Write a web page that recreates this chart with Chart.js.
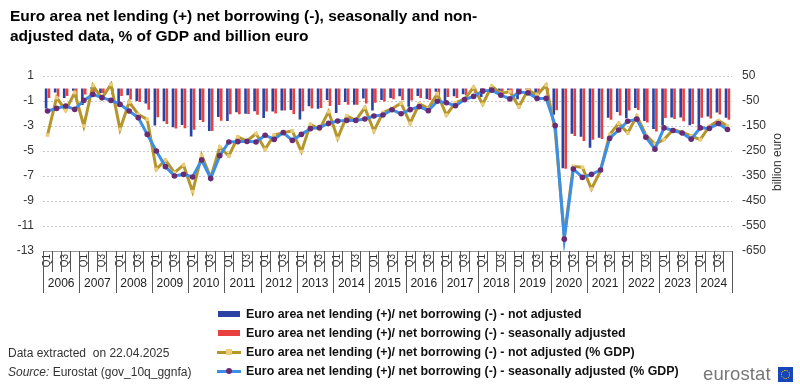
<!DOCTYPE html>
<html>
<head>
<meta charset="utf-8">
<script src="https://cdn.jsdelivr.net/npm/chart.js@4.4.1/dist/chart.umd.min.js"></script>
<style>
  html, body { margin: 0; padding: 0; background: #fff; }
  body { width: 800px; height: 388px; position: relative; overflow: hidden; font-family: "Liberation Sans", Arial, sans-serif; color: #000; }
  #wrap { position: absolute; left: 0; top: 0; width: 800px; height: 388px; }
  #title { position: absolute; left: 10px; top: 6px; font-size: 15.5px; font-weight: bold; line-height: 20px; color: #000; }
  #yRightTitle { position: absolute; left: 777px; top: 162px; transform: translate(-50%, -50%) rotate(-90deg); font-size: 12px; color: #333; white-space: nowrap; }
  #legend { position: absolute; left: 217px; top: 304px; font-size: 12.4px; font-weight: bold; color: #111; }
  .row { height: 19px; display: flex; align-items: center; white-space: nowrap; }
  .sym { width: 24px; height: 10px; position: relative; margin-right: 5px; }
  .bar { position: absolute; left: 1px; right: 1px; top: 2px; height: 6px; }
  .ln { position: absolute; left: 0; right: 0; top: 4px; height: 3px; }
  .mk { position: absolute; left: 9px; top: 2px; width: 6px; height: 6px; }
  #foot { position: absolute; left: 8px; top: 344px; font-size: 12px; color: #333; line-height: 19px; }
  #logo { position: absolute; left: 703px; top: 363px; font-size: 18.5px; color: #777; letter-spacing: 0.1px; }
  #flag { position: absolute; left: 778px; top: 367px; width: 15px; height: 15px; background: #1646b8; }
  #flag div { position: absolute; left: 3px; top: 3px; width: 7px; height: 7px; border: 1px dotted #ffd617; border-radius: 50%; }
</style>
</head>
<body>
<div id="wrap"><canvas id="chart" width="800" height="388"></canvas></div>
<div id="title">Euro area net lending (+) net borrowing (-), seasonally and non-<br>adjusted data, % of GDP and billion euro</div>
<div id="yRightTitle">billion euro</div>
<div id="legend"></div>
<div id="foot">Data extracted&nbsp; on 22.04.2025<br><i>Source:</i> Eurostat (gov_10q_ggnfa)</div>
<div id="logo">eurostat</div>
<div id="flag"><div></div></div>
<script>
const years = ['2006', '2007', '2008', '2009', '2010', '2011', '2012', '2013', '2014', '2015',
  '2016', '2017', '2018', '2019', '2020', '2021', '2022', '2023', '2024'];
const quarters = ['Q1', 'Q2', 'Q3', 'Q4'];
const quarterTicks = ['Q1', '', 'Q3', ''];

// billion euro, not adjusted
const notAdjustedBn = [
  -80, -16, -38, -9, -66, 4, -18, 6, -72, -27, -50, -60,
  -148, -131, -155, -146, -192, -126, -170, -114, -130, -95, -101, -91,
  -118, -92, -88, -86, -124, -71, -81, -46, -98, -54, -65, -40,
  -88, -46, -38, -31, -73, -30, -42, -13, -62, -31, -23, -1,
  -34, 5, -12, -7, -43, -4, -16, 8,
  -105, -319, -181, -193, -237, -197, -117, -94, -119, -78,
  -130, -162, -148, -116, -116, -147, -153, -112, -96, -117
];
// billion euro, seasonally adjusted
const seasAdjustedBn = [
  -38, -35, -30, -39, -24, -13, -19, -22, -30, -44, -54, -85,
  -115, -142, -160, -159, -165, -134, -170, -129, -103, -103, -102, -105,
  -92, -100, -88, -102, -91, -80, -78, -70, -66, -65, -65, -60,
  -57, -52, -43, -47, -48, -38, -46, -28, -34, -38, -26, -17,
  -8, -5, -16, -24, -9, -11, -24, -24,
  -87, -321, -190, -210, -205, -202, -125, -108, -88, -86,
  -136, -172, -118, -122, -131, -142, -117, -120, -104, -125
];
// % of GDP, not adjusted
const notAdjustedPct = [
  -3.72, -0.73, -1.75, -0.33, -3.0, 0.25, -0.79, 0.33, -3.27, -1.08, -2.07, -2.47,
  -6.47, -5.72, -6.73, -6.12, -8.25, -5.35, -7.13, -4.68, -5.4, -3.88, -4.2, -3.61,
  -4.87, -3.72, -3.53, -3.4, -5.05, -2.87, -3.27, -1.85, -3.99, -2.2, -2.55, -1.53,
  -3.4, -1.93, -1.62, -1.18, -2.78, -1.22, -1.59, -0.42, -2.12, -1.13, -0.85, 0.1,
  -1.25, 0.2, -0.4, -0.25, -1.46, -0.13, -0.52, 0.28,
  -3.4, -11.8, -6.23, -6.31, -8.04, -6.57, -3.69, -2.79, -3.55, -2.2,
  -3.72, -4.45, -4.09, -3.3, -3.5, -3.8, -4.09, -3.03, -2.57, -3.0
];
// % of GDP, seasonally adjusted
const seasAdjustedPct = [
  -1.8, -1.59, -1.4, -1.67, -0.95, -0.47, -0.73, -0.95, -1.27, -1.8, -2.33, -3.67,
  -5.0, -6.25, -7.0, -6.87, -7.08, -5.72, -7.19, -5.37, -4.28, -4.25, -4.23, -4.28,
  -3.74, -4.07, -3.53, -4.15, -3.67, -3.21, -3.13, -2.79, -2.6, -2.55, -2.55, -2.44,
  -2.2, -2.12, -1.7, -2.02, -1.69, -1.45, -1.77, -1.02, -1.14, -1.38, -0.89, -0.63,
  -0.21, -0.13, -0.53, -0.83, -0.28, -0.35, -0.79, -0.79,
  -2.97, -12.05, -6.44, -7.11, -6.87, -6.52, -3.99, -3.32, -2.62, -2.45,
  -3.9, -4.85, -3.15, -3.36, -3.56, -4.05, -3.15, -3.19, -2.8, -3.28
];

const labels = years.flatMap(y => quarters.map(q => y + ' ' + q));

const BLUE = '#2a42a3';
const RED = '#e8403f';
const GOLD = '#b5962b';
const GOLD_MK = '#ebcd7c';
const LBLUE = '#3b8fe6';
const PURPLE = '#6a2b73';

const series = [
  { label: 'Euro area net lending (+)/ net borrowing (-) - not adjusted', type: 'bar', data: notAdjustedBn, color: BLUE },
  { label: 'Euro area net lending (+)/ net borrowing (-) - seasonally adjusted', type: 'bar', data: seasAdjustedBn, color: RED },
  { label: 'Euro area net lending (+)/ net borrowing (-) - not adjusted (% GDP)', type: 'line', data: notAdjustedPct, color: GOLD, marker: GOLD_MK, style: 'rect' },
  { label: 'Euro area net lending (+)/ net borrowing (-) - seasonally adjusted (% GDP)', type: 'line', data: seasAdjustedPct, color: LBLUE, marker: PURPLE, style: 'circle' },
];

const datasets = series.map((s, i) => {
  if (s.type === 'bar') {
    return {
      type: 'bar', label: s.label, data: s.data, yAxisID: 'y1', xAxisID: 'x',
      backgroundColor: s.color, borderWidth: 0,
      categoryPercentage: 0.64, barPercentage: 0.9, order: 5 + i
    };
  }
  return {
    type: 'line', label: s.label, data: s.data, yAxisID: 'y', xAxisID: 'x',
    borderColor: s.color, borderWidth: 3, tension: 0,
    pointStyle: s.style, pointRadius: s.style === 'rect' ? 2.6 : 2.8,
    pointBackgroundColor: s.marker, pointBorderWidth: 0,
    order: 4 - i
  };
});

const tickFont = { family: '"Liberation Sans", Arial, sans-serif', size: 12 };
const Q_AXIS_H = 21;
const Y_AXIS_H = 21;

// separator lines of the two-level category axis
const axisBoxes = {
  id: 'axisBoxes',
  afterDraw(chart) {
    const { ctx, chartArea } = chart;
    const x = chart.scales.x;
    const n = labels.length;
    const step = (x.getPixelForValue(1) - x.getPixelForValue(0));
    ctx.save();
    ctx.strokeStyle = '#555';
    ctx.lineWidth = 1;
    ctx.beginPath();
    for (let i = 0; i <= n; i++) {
      const px = Math.round(x.getPixelForValue(i) - step / 2) + 0.5;
      const bottom = i % 4 === 0 ? chartArea.bottom + Q_AXIS_H + Y_AXIS_H : chartArea.bottom + Q_AXIS_H;
      ctx.moveTo(px, chartArea.bottom);
      ctx.lineTo(px, bottom);
    }
    ctx.stroke();
    ctx.restore();
  }
};

new Chart(document.getElementById('chart'), {
  data: { labels, datasets },
  options: {
    responsive: false,
    animation: false,
    events: [],
    layout: { padding: { left: 10, right: 33, top: 76, bottom: 95 } },
    plugins: { legend: { display: false }, tooltip: { enabled: false }, title: { display: false } },
    scales: {
      x: {
        type: 'category', axis: 'x', position: 'bottom', offset: true,
        grid: { offset: true, drawOnChartArea: false, drawTicks: false },
        border: { display: true, color: '#999' },
        ticks: {
          autoSkip: false, minRotation: 90, maxRotation: 90, padding: 3,
          color: '#333', font: { family: tickFont.family, size: 10 },
          callback: (v, i) => quarterTicks[i % 4]
        },
        afterFit: s => { s.height = Q_AXIS_H; }
      },
      year: {
        type: 'category', axis: 'x', position: 'bottom', offset: true, labels: years,
        grid: { offset: true, drawOnChartArea: false, drawTicks: false },
        border: { display: false },
        ticks: { autoSkip: false, maxRotation: 0, padding: 4, color: '#222', font: tickFont },
        afterFit: s => { s.height = Y_AXIS_H; }
      },
      y: {
        position: 'left', min: -13, max: 1,
        ticks: { stepSize: 2, padding: 9, color: '#333', font: tickFont },
        grid: { color: '#c8c8c8', drawTicks: false, lineWidth: 1 },
        border: { display: false, dash: [2, 2] },
        afterFit: s => { s.width = 33; }
      },
      y1: {
        position: 'right', min: -650, max: 50,
        ticks: { stepSize: 100, padding: 10, color: '#333', font: tickFont },
        grid: { display: false, drawTicks: false },
        border: { display: false },
        afterFit: s => { s.width = 35; }
      }
    }
  },
  plugins: [axisBoxes]
});

// legend
const legend = document.getElementById('legend');
series.forEach(s => {
  const row = document.createElement('div');
  row.className = 'row';
  const sym = document.createElement('div');
  sym.className = 'sym';
  if (s.type === 'bar') {
    sym.innerHTML = '<div class="bar" style="background:' + s.color + '"></div>';
  } else {
    sym.innerHTML = '<div class="ln" style="background:' + s.color + '"></div>' +
      '<div class="mk" style="background:' + s.marker + (s.style === 'circle' ? ';border-radius:50%' : '') + '"></div>';
  }
  const txt = document.createElement('span');
  txt.textContent = s.label;
  row.appendChild(sym);
  row.appendChild(txt);
  legend.appendChild(row);
});
</script>
</body>
</html>
